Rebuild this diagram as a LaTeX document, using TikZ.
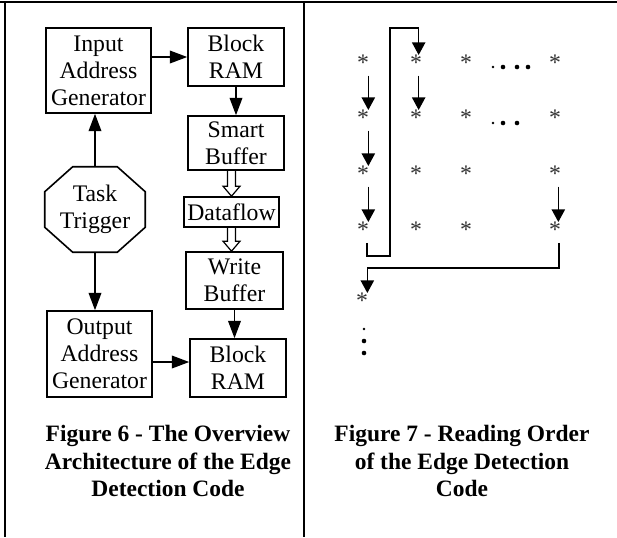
\documentclass[tikz,border=0pt]{standalone}
\usepackage{fontspec}
\setmainfont{Liberation Serif}
\usetikzlibrary{arrows.meta,positioning,calc}

\begin{document}
\begin{tikzpicture}[
		x=0.75pt,y=-0.75pt,
		>={Triangle[length=13pt,width=9.5pt]},
		every node/.style={font=\fontsize{17.8pt}{20.3pt}\selectfont},
		blk/.style={draw, line width=1.2pt, align=center, inner sep=0pt},
		arr/.style={->, line width=1.1pt},
		sarr/.style={-{Triangle[length=9.5pt,width=10pt]}, line width=1.1pt},
		hollow/.style={line width=0.9pt, line join=miter},
		star/.style={anchor=north, inner sep=0pt, text=black!80},
		capt/.style={align=center, font=\fontsize{17.6pt}{20.6pt}\selectfont\bfseries}
		]
		\useasboundingbox (0,0) rectangle (617,537);
		
		% =========================
		% frame
		% =========================
		\draw[line width=2pt] (0,2) -- (617,2);
		\draw[line width=2pt] (5,2) -- (5,537);
		\draw[line width=2pt] (304,2) -- (304,537);
		
		% =========================
		% Left: overview architecture
		% =========================
		\node[blk, minimum width=78.75pt, minimum height=63.75pt] (iag) at (98.5,70.5) {Input\\Address\\Generator};
		\node[blk, minimum width=72pt, minimum height=43.5pt] (ram1) at (236,57) {Block\\RAM};
		\node[blk, minimum width=72pt, minimum height=40.5pt] (sbuf) at (236,143) {Smart\\Buffer};
		\node[blk, minimum width=71.25pt, minimum height=22.5pt] (dflow) at (231.5,212) {Dataflow};
		\node[blk, minimum width=72.75pt, minimum height=42.75pt] (wbuf) at (234.5,280.5) {Write\\Buffer};
		\node[blk, minimum width=78.75pt, minimum height=64.5pt] (oag) at (99.5,354) {Output\\Address\\Generator};
		\node[blk, minimum width=72pt, minimum height=43.5pt] (ram2) at (238,368) {Block\\RAM};
		
		% task trigger (octagon)
		\node[align=center, inner sep=0pt, minimum width=75pt, minimum height=63.75pt] (tt) at (95,209.5) {Task\\Trigger};
		\draw[line width=1.2pt] ($(tt.north west)+(28,0)$) -- ($(tt.north east)+(-28,0)$)
		-- ($(tt.north east)+(0,25)$) -- ($(tt.south east)+(0,-25)$)
		-- ($(tt.south east)+(-28,0)$) -- ($(tt.south west)+(28,0)$)
		-- ($(tt.south west)+(0,-25)$) -- ($(tt.north west)+(0,25)$) -- cycle;
		
		% arrows
		\draw[arr] (iag.east |- ram1.west) -- (ram1.west);
		\draw[arr] (ram1.south) -- (ram1.south |- sbuf.north);
		\draw[arr] (tt.north) -- (tt.north |- iag.south);
		\draw[arr] (tt.south) -- (tt.south |- oag.north);
		\draw[arr] (wbuf.south) -- (wbuf.south |- ram2.north);
		\draw[arr] ([yshift=-6pt]oag.east) -- ([yshift=-6pt]oag.east -| ram2.west);
		
		% hollow arrows
		\draw[hollow] ($(dflow.north |- sbuf.south)+(-4,0)$) -- ($(dflow.north)+(-4,-10)$) -- ++(-4.5,0)
		-- (dflow.north) -- ++(8.5,-10) -- ++(-4.5,0) -- ($(dflow.north |- sbuf.south)+(4,0)$);
		\draw[hollow] ($(dflow.south)+(-4,0)$) -- ($(dflow.south |- wbuf.north)+(-4,-10)$) -- ++(-4.5,0)
		-- (dflow.south |- wbuf.north) -- ++(8.5,-10) -- ++(-4.5,0) -- ($(dflow.south)+(4,0)$);
		
		\node[capt] (cap6) at (168,461) {Figure 6 - The Overview\\Architecture of the Edge\\Detection Code};
		
		% =========================
		% Right: reading order
		% =========================
		\foreach \r/\y in {1/60,2/115,3/171,4/227}
		\foreach \c/\x in {1/363,2/416,3/466,4/555}
		\node[star] (s\r\c) at (\x,\y-5) {*};
		\node[star] (s51) at (362,293) {*};
		
		% dots
		\fill (493,67) circle (1.3);
		\foreach \x in {503,517,528} \fill (\x,67) circle (2.3);
		\fill (493,123) circle (1.3);
		\foreach \x in {503,517} \fill (\x,123) circle (2.3);
		\fill (364,329) circle (1.3);
		\foreach \y in {341,353} \fill (364,\y) circle (2.3);
		
		% down arrows
		\draw[sarr] ([xshift=4pt,yshift=-3.5pt]s11.south) -- ([xshift=4pt]s21.north);
		\draw[sarr] ([xshift=4pt,yshift=-3.5pt]s21.south) -- ([xshift=4pt]s31.north);
		\draw[sarr] ([xshift=4pt,yshift=-3.5pt]s31.south) -- ([xshift=4pt]s41.north);
		\draw[sarr] ([xshift=2pt,yshift=-3.5pt]s12.south) -- ([xshift=2pt]s22.north);
		\draw[sarr] ([xshift=2.5pt,yshift=-3.5pt]s34.south) -- ([xshift=2.5pt]s44.north);
		
		% turns
		\coordinate (t1) at (390,256);
		\coordinate (t2) at (390,28);
		\coordinate (t3) at (460,268);
		\draw[sarr] ([xshift=3pt,yshift=-3.5pt]s41.south) |- (t1) -- (t2) -| ([xshift=2pt]s12.north);
		\draw[sarr] ([xshift=3pt,yshift=-3.5pt]s44.south) |- (t3) -| ([xshift=4pt]s51.north);
		
		\node[capt] (cap7) at (462,461) {Figure 7 - Reading Order\\of the Edge Detection\\Code};
		
	\end{tikzpicture}
\end{document}
